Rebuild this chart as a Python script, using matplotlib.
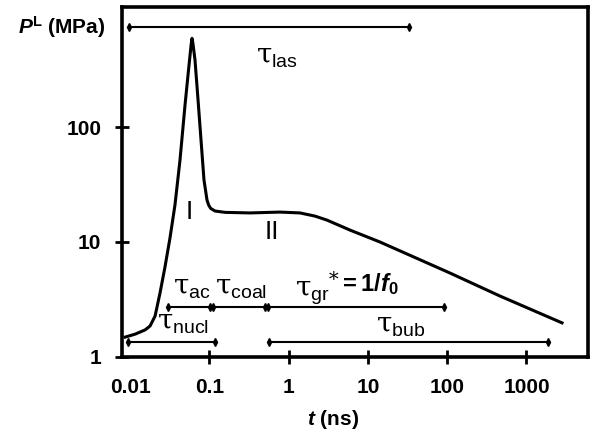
# pressure pulse P^L vs time, log-log
import matplotlib
matplotlib.use("Agg")
from matplotlib import pyplot as plt

plt.rcParams["font.family"] = ["Liberation Sans", "DejaVu Sans"]
plt.rcParams["mathtext.fontset"] = "custom"
plt.rcParams["mathtext.rm"] = "DejaVu Serif"
plt.rcParams["mathtext.sf"] = "Liberation Sans"
plt.rcParams["mathtext.it"] = "Liberation Sans:italic"
plt.rcParams["mathtext.bf"] = "Liberation Sans:bold"
plt.rcParams["mathtext.bfit"] = "Liberation Sans:italic:bold"

# curve
t_ns = [0.0087, 0.0116, 0.0155, 0.0179, 0.0207, 0.0239, 0.0276, 0.0319,
        0.0369, 0.0427, 0.0494, 0.0555, 0.0590, 0.0605, 0.0620, 0.0660,
        0.0721, 0.0786, 0.0857, 0.0935, 0.098, 0.104, 0.118, 0.158, 0.326,
        0.780, 1.39, 2.15, 3.05, 5.94, 14.2, 108, 463, 2808]
p_mpa = [1.49, 1.58, 1.72, 1.86, 2.27, 3.60, 6.06, 10.8,
         21.0, 51.6, 155, 346, 520, 590, 540, 383,
         172, 77, 34.6, 23.2, 21.0, 19.6, 18.6, 18.1, 17.9,
         18.2, 17.9, 16.8, 15.5, 12.7, 10.0, 5.38, 3.39, 1.98]

# time intervals (ns) and the pressure level they are drawn at
bar_start = [0.0097, 0.030, 0.111, 0.55, 0.0094, 0.566]
bar_end = [33, 0.102, 0.50, 90, 0.118, 1866]
bar_level = [741, 2.72, 2.72, 2.72, 1.35, 1.35]

xticks = [0.01, 0.1, 1, 10, 100, 1000]
xtick_labels = ["0.01", "0.1", "1", "10", "100", "1000"]
yticks = [1, 10, 100]
ytick_labels = ["1", "10", "100"]

fig = plt.figure(figsize=(5.91, 4.36), dpi=100)
ax = fig.add_axes([0.2064, 0.1812, 0.7885, 0.8027])

ax.plot(t_ns, p_mpa, color="black", lw=2.2, solid_joinstyle="round")

for a, b, y in zip(bar_start, bar_end, bar_level):
    ax.plot([a, b], [y, y], color="black", lw=1.5, marker="d", ms=4)

ax.set_xscale("log")
ax.set_yscale("log")
ax.set_xlim(0.00792, 5970)
ax.set_ylim(1, 1105)
ax.minorticks_off()
ax.set_xticks(xticks)
ax.set_xticklabels(xtick_labels, fontsize=15, fontweight="bold")
ax.set_yticks(yticks)
ax.set_yticklabels(ytick_labels, fontsize=15, fontweight="bold")
ax.tick_params(direction="inout", length=10, width=2, pad=10)
ax.xaxis.get_major_ticks()[0].tick1line.set_visible(False)
for s in ax.spines.values():
    s.set_linewidth(2.6)

tau_kw = dict(fontsize=20, ha="center", va="center")
ax.text(0.714, 406, r"$\mathrm{\tau}_{\mathsf{las}}$", **tau_kw)
ax.text(0.0555, 18.2, "I", fontsize=19, ha="center", va="center")
ax.text(0.618, 12.2, "II", fontsize=19, ha="center", va="center")
ax.text(0.0605, 3.98, r"$\mathrm{\tau}_{\mathsf{ac}}$", **tau_kw)
ax.text(0.250, 3.98, r"$\mathrm{\tau}_{\mathsf{coal}}$", **tau_kw)
ax.text(1.2, 3.98, r"$\mathrm{\tau}_{\mathsf{gr}}{}^{*}$",
        fontsize=20, ha="left", va="center")
ax.text(4.3, 4.3, r"$\mathbf{=1/}\mathbfit{f}_{\mathbf{0}}$",
        fontsize=17, ha="left", va="center")
ax.text(0.0460, 1.98, r"$\mathrm{\tau}_{\mathsf{nucl}}$", **tau_kw)
ax.text(26.1, 1.86, r"$\mathrm{\tau}_{\mathsf{bub}}$", **tau_kw)

fig.text(0.030, 0.938, r"$\mathbfit{P}^{\mathbf{L}}$ (MPa)", fontsize=15,
         fontweight="bold", ha="left", va="center")
fig.text(0.5635, 0.0367, r"$\mathbfit{t}$ (ns)", fontsize=15,
         fontweight="bold", ha="center", va="center")

fig.savefig("out.png", dpi=100)
